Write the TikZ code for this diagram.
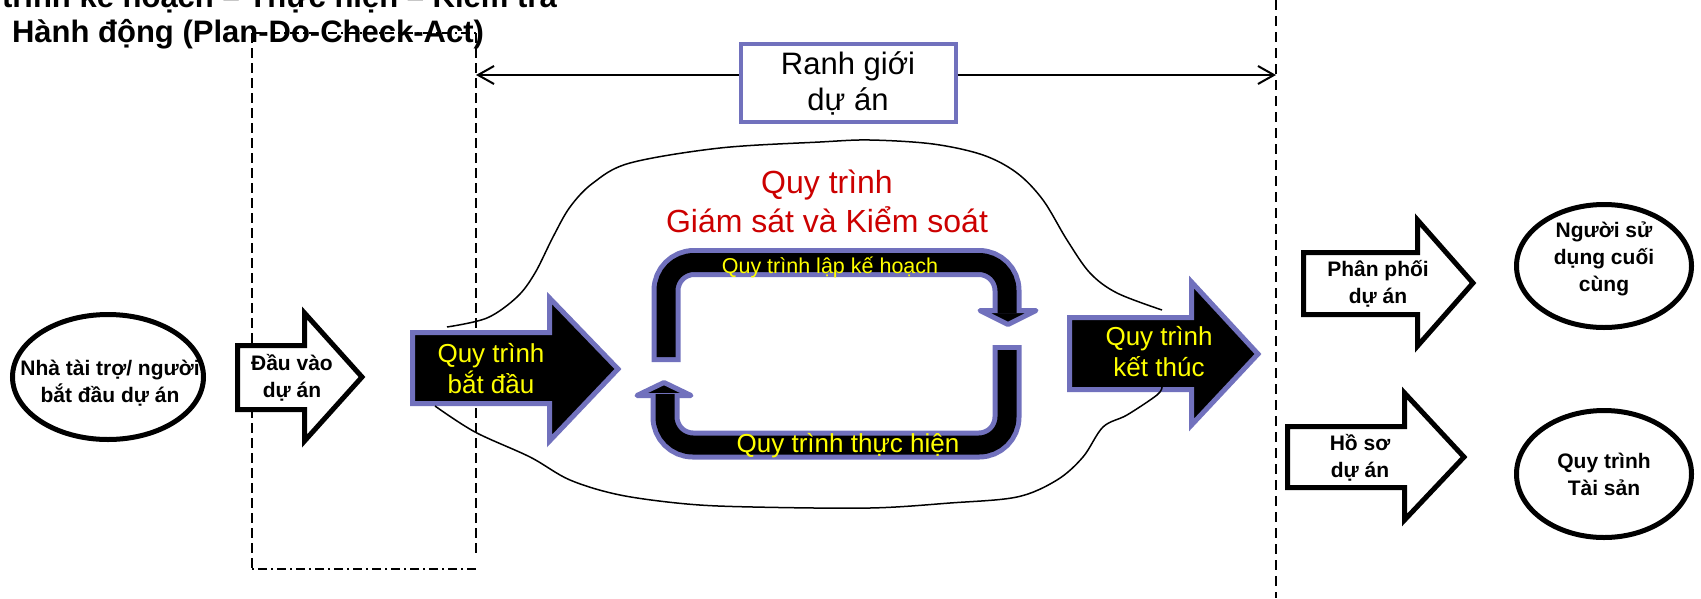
\documentclass[tikz,border=0pt]{standalone}
\usepackage{fontspec}
\setmainfont{Liberation Sans}
\usetikzlibrary{arrows.meta}
\definecolor{pur}{RGB}{113,113,189}
\definecolor{yel}{RGB}{255,255,0}
\definecolor{rd}{RGB}{204,0,0}
\begin{document}
\begin{tikzpicture}[x=1pt,y=-1pt,
  ttl/.style={font=\bfseries\fontsize{31}{33}\selectfont, inner sep=0pt},
  lbl/.style={font=\bfseries\fontsize{21}{27}\selectfont, align=center, inner sep=0pt},
  ybig/.style={text=yel, font=\fontsize{26}{31}\selectfont, align=center, inner sep=0pt},
  ysm/.style={text=yel, font=\fontsize{21.5}{24}\selectfont, inner sep=0pt},
  ymd/.style={text=yel, font=\fontsize{26}{30}\selectfont, inner sep=0pt},
  redt/.style={text=rd, font=\fontsize{32}{39}\selectfont, align=center, inner sep=0pt},
  rgbox/.style={draw=pur, line width=4pt, fill=white, minimum width=215pt, minimum height=78pt,
     inner sep=0pt, align=center, font=\fontsize{31}{36}\selectfont},
  wblk/.style={draw=black, line width=5pt, fill=white, line join=miter},
  pblk/.style={draw=pur, line width=5pt, fill=black, line join=miter},
  ellb/.style={draw=black, line width=5pt, fill=white},
  bnd/.style={line width=2pt},
  ddv/.style={line width=1.6pt, dash pattern=on 10pt off 5pt},
  ddh/.style={line width=1.6pt, dash pattern=on 9pt off 4pt on 2pt off 4pt},
  band/.style={rounded corners=28pt},
  cloud/.style={line width=1.5pt}
]
\useasboundingbox (0,0) rectangle (1701,598);

% title (partly cut off at the top)
\node[ttl, anchor=base east] (t1) at (557,7) {Quy trình kế hoạch – Thực hiện – Kiểm tra};
\node[ttl, anchor=base] (t2) at (248,42) {Hành động (Plan-Do-Check-Act)};

% dash-dot frame
\draw[ddh] (252,33) -- (476,33);
\draw[ddh] (476,569) -- (252,569);
\draw[ddv] (252,33) -- (252,569);
\draw[ddv] (476,33) -- (476,553);

% right boundary line
\draw[line width=2pt, dash pattern=on 10pt off 6pt] (1276,0) -- (1276,598);

% project boundary
\coordinate (bl) at (476,75);
\coordinate (br) at (1276,75);
\node[rgbox] (rg) at (848,83) {Ranh giới\\dự án};
\draw[bnd, {Straight Barb[length=16pt,width=18pt]}-] (bl) -- (rg.west |- bl);
\draw[bnd, -{Straight Barb[length=16pt,width=18pt]}] (rg.east |- br) -- (br);

% ellipses
\draw[ellb] (108,377) ellipse [x radius=95.5, y radius=62.5];
\draw[ellb] (1604,266) ellipse [x radius=87.5, y radius=61.5];
\draw[ellb] (1604,474) ellipse [x radius=87.5, y radius=63.5];

% white block arrows
\draw[wblk] (237.5,345.5) -- (304.5,345.5) -- (304.5,313) -- (362,377) -- (304.5,441) -- (304.5,409.5) -- (237.5,409.5) -- cycle;
\draw[wblk] (1303.5,252.5) -- (1417.5,252.5) -- (1417.5,220) -- (1473,283) -- (1417.5,346) -- (1417.5,314.5) -- (1303.5,314.5) -- cycle;
\draw[wblk] (1287.5,426.5) -- (1404.5,426.5) -- (1404.5,393) -- (1464,457) -- (1404.5,520) -- (1404.5,487.5) -- (1287.5,487.5) -- cycle;

% black/purple block arrows
\draw[pblk] (412.5,332.5) -- (549.5,332.5) -- (549.5,298) -- (618,369) -- (549.5,441) -- (549.5,403.5) -- (412.5,403.5) -- cycle;
\draw[pblk] (1069.5,317.5) -- (1191.5,317.5) -- (1191.5,282) -- (1258,354) -- (1191.5,425) -- (1191.5,389.5) -- (1069.5,389.5) -- cycle;

% cycle: planning (upper U)
\draw[band, pur, line width=29pt] (666,362) -- (666,262.5) -- (1007,262.5) -- (1007,312);
\filldraw[draw=pur, fill=black, line width=5pt, line join=round] (980,310.5) -- (1036,310.5) -- (1008,324.5) -- cycle;
\draw[band, black, line width=19pt] (666,357) -- (666,262.5) -- (1007,262.5) -- (1007,313);

% cycle: execution (lower U)
\draw[band, pur, line width=29pt] (1007,345) -- (1007,445) -- (665,445) -- (665,396);
\filldraw[draw=pur, fill=black, line width=5pt, line join=round] (637,395.5) -- (691,395.5) -- (664,382.5) -- cycle;
\draw[band, black, line width=19pt] (1007,350) -- (1007,445) -- (665,445) -- (665,394);

% cloud (monitoring & control)
\draw[cloud] plot[smooth, tension=0.55] coordinates {(447,327) (487,318) (517,297) (535,273) (553,237) (570,207) (593,183) (630,163) (720,148) (820,142) (870,140) (933,144) (983,155) (1017,173) (1043,200) (1067,240) (1090,273) (1117,293) (1162,310)};
\draw[cloud] plot[smooth, tension=0.55] coordinates {(435,406) (475,432) (530,457) (570,480) (620,495) (687,504) (753,507) (870,508) (950,503) (1017,497) (1057,480) (1083,457) (1103,427) (1127,415) (1157,395) (1162,387)};

% texts
\node[lbl] (spon) at (110,383) {Nhà tài trợ/ người\\bắt đầu dự án};
\node[lbl] (inp) at (292,378) {Đầu vào\\dự án};
\node[ybig] (init) at (491,369) {Quy trình\\bắt đầu};
\node[ybig] (close) at (1159,352) {Quy trình\\kết thúc};
\node[lbl] (deliv) at (1378,284) {Phân phối\\dự án};
\node[lbl] (rec) at (1360,458) {Hồ sơ\\dự án};
\node[lbl] (user) at (1604,259) {Người sử\\dụng cuối\\cùng};
\node[lbl] (asset) at (1604,474) {Quy trình\\Tài sản};
\node[redt] (mc) at (827,201) {Quy trình\\Giám sát và Kiểm soát};
\node[ysm, anchor=base] (plan) at (830,273) {Quy trình lập kế hoạch};
\node[ymd, anchor=base] (exec) at (848,452) {Quy trình thực hiện};
\end{tikzpicture}
\end{document}
